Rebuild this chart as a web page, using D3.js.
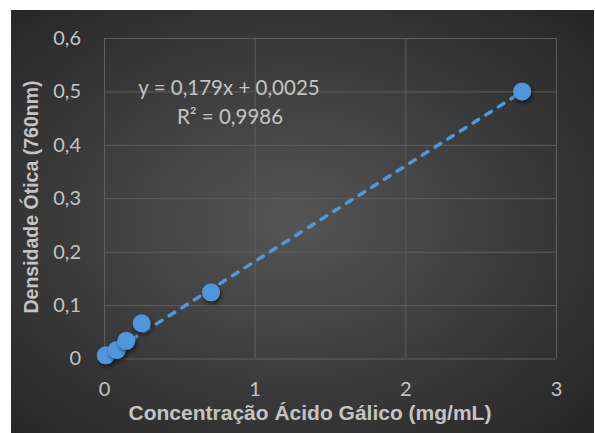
<!DOCTYPE html>
<html>
<head>
<meta charset="utf-8">
<script src="https://cdn.jsdelivr.net/npm/d3@7"></script>
<style>
  body { margin: 0; background: #ffffff; }
  svg { display: block; }
</style>
</head>
<body>
<div id="chart"></div>
<script>
// data
var concentracao = [0.012, 0.085, 0.148, 0.25, 0.71, 2.775];
var densidade = [0.006, 0.016, 0.033, 0.066, 0.124, 0.5];
var xTicks = [0, 1, 2, 3];
var xTickLabels = ["0", "1", "2", "3"];
var yTicks = [0, 0.1, 0.2, 0.3, 0.4, 0.5, 0.6];
var yTickLabels = ["0", "0,1", "0,2", "0,3", "0,4", "0,5", "0,6"];
var slope = 0.179, intercept = 0.0025;
var eqText = "y = 0,179x + 0,0025";
var r2Text = "R² = 0,9986";

var width = 595, height = 433;
var plot = {left: 104, right: 556, top: 38, bottom: 358.5};

var svg = d3.select("#chart")
  .append("svg")
    .attr("width", width)
    .attr("height", height);

var defs = svg.append("defs");
var grad = defs.append("radialGradient")
  .attr("id", "bg")
  .attr("cx", "48%").attr("cy", "50%").attr("r", "70%");
grad.append("stop").attr("offset", "0%").attr("stop-color", "#555555");
grad.append("stop").attr("offset", "100%").attr("stop-color", "#262626");

var shadow = defs.append("filter")
  .attr("id", "shadow")
  .attr("x", "-50%").attr("y", "-50%").attr("width", "200%").attr("height", "200%");
shadow.append("feDropShadow")
  .attr("dx", 1.5).attr("dy", 2.5).attr("stdDeviation", 2)
  .attr("flood-color", "#000").attr("flood-opacity", 0.6);

// chart area background
svg.append("rect")
  .attr("x", 11).attr("y", 10)
  .attr("width", 583).attr("height", 423)
  .attr("fill", "url(#bg)");

var x = d3.scaleLinear().domain([0, 3]).range([plot.left, plot.right]);
var y = d3.scaleLinear().domain([0, 0.6]).range([plot.bottom, plot.top]);

var tickFont = "Lato, 'Open Sans', sans-serif";

// Y axis + horizontal gridlines
var yAxis = svg.append("g")
  .attr("transform", "translate(" + plot.left + ",0)")
  .call(d3.axisLeft(y)
    .tickValues(yTicks)
    .tickFormat(function(d, i) { return yTickLabels[i]; })
    .tickSize(-(plot.right - plot.left))
    .tickPadding(23));
yAxis.select(".domain").remove();

// X axis + vertical gridlines
var xAxis = svg.append("g")
  .attr("transform", "translate(0," + plot.bottom + ")")
  .call(d3.axisBottom(x)
    .tickValues(xTicks)
    .tickFormat(function(d, i) { return xTickLabels[i]; })
    .tickSize(-(plot.bottom - plot.top))
    .tickPadding(23));
xAxis.select(".domain").remove();

svg.selectAll(".tick line")
  .attr("stroke", "#5e5e5e")
  .attr("stroke-width", 1);
svg.selectAll(".tick text")
  .attr("fill", "#c4c4c4")
  .style("font-family", tickFont)
  .style("font-size", "20px");

// trendline
var xMin = d3.min(concentracao), xMax = d3.max(concentracao);
var trend = [[xMin, slope * xMin + intercept], [xMax, slope * xMax + intercept]];
svg.append("path")
  .datum(trend)
  .attr("fill", "none")
  .attr("stroke", "#5097dc")
  .attr("stroke-width", 3.5)
  .attr("stroke-dasharray", "6.5 8.5")
  .attr("stroke-linecap", "round")
  .attr("d", d3.line()
    .x(function(d) { return x(d[0]); })
    .y(function(d) { return y(d[1]); }));

// points
svg.selectAll("circle.pt")
  .data(concentracao)
  .enter()
  .append("circle")
    .attr("class", "pt")
    .attr("cx", function(d) { return x(d); })
    .attr("cy", function(d, i) { return y(densidade[i]); })
    .attr("r", 9)
    .attr("fill", "#5097dc")
    .attr("filter", "url(#shadow)");

// equation label
svg.append("text")
  .attr("x", 229).attr("y", 95)
  .attr("text-anchor", "middle")
  .attr("fill", "#c4c4c4")
  .style("font-family", tickFont)
  .style("font-size", "20.5px")
  .text(eqText);
svg.append("text")
  .attr("x", 230).attr("y", 124)
  .attr("text-anchor", "middle")
  .attr("fill", "#c4c4c4")
  .style("font-family", tickFont)
  .style("font-size", "20.5px")
  .text(r2Text);

// axis titles
svg.append("text")
  .attr("x", 310).attr("y", 420)
  .attr("text-anchor", "middle")
  .attr("fill", "#c4c4c4")
  .style("font-family", "'Liberation Sans', Arial, sans-serif")
  .style("font-weight", "bold")
  .style("font-size", "21px")
  .text("Concentração Ácido Gálico (mg/mL)");

svg.append("text")
  .attr("transform", "translate(38,197) rotate(-90)")
  .attr("text-anchor", "middle")
  .attr("fill", "#c4c4c4")
  .style("font-family", "'Liberation Sans', Arial, sans-serif")
  .style("font-weight", "bold")
  .style("font-size", "19.5px")
  .text("Densidade Ótica (760nm)");
</script>
</body>
</html>
